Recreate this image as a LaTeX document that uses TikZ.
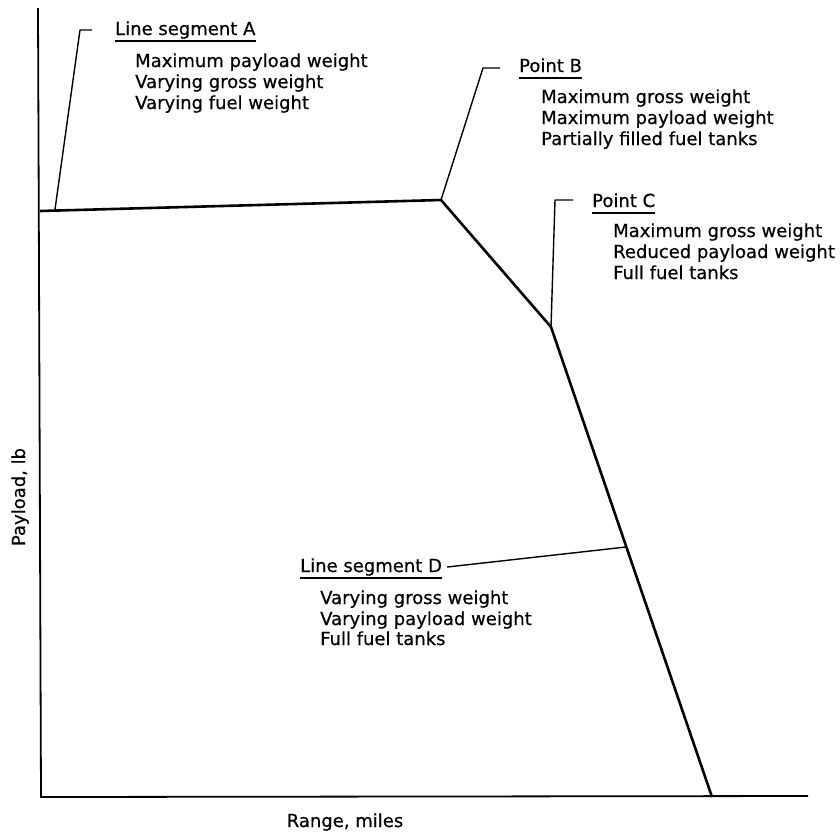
\documentclass[tikz,border=0pt]{standalone}
\usepackage{fontspec}
\setmainfont{DejaVu Sans}
\newfontfamily\lblfont{DejaVu Sans}[FakeBold=0.5]
\usetikzlibrary{calc}
\begin{document}
\begin{tikzpicture}[x=1pt,y=-1pt,
  lbl/.style={inner sep=0pt, anchor=base west, font=\lblfont\fontsize{18}{21}\selectfont},
  curve/.style={line width=2.6pt, line join=round},
  axis/.style={line width=1.8pt},
  leader/.style={line width=1.4pt, line join=round},
  uline/.style={line width=1.6pt}]
\useasboundingbox (0,0) rectangle (840,833);
% axes
\coordinate (ytop) at (38,8);
\coordinate (O) at (41,797);
\coordinate (xend) at (808,796);
\draw[axis] (ytop) -- (O) -- (xend);
% payload-range curve
\coordinate (P0) at (40,211);
\coordinate (B) at (441,200);
\coordinate (C) at (551,327);
\coordinate (E) at (712,797);
\draw[curve] (P0) -- (B) -- (C) -- (E);
% Line segment A
\node[lbl] (ta) at (115,35) {Line segment A};
\draw[uline] ([yshift=-6pt]ta.base west) -- ([yshift=-6pt]ta.base east);
\node[lbl] (a1) at (135,67) {Maximum payload weight};
\node[lbl] (a2) at (135,88) {Varying gross weight};
\node[lbl] (a3) at (135,109) {Varying fuel weight};
\coordinate (la) at ($(P0)!0.037!(B)$);
\coordinate (laBend) at (80,30);
\coordinate (laEnd) at (92,30);
\draw[leader] (la) -- (laBend) -- (laEnd);
% Point B
\node[lbl] (tb) at (519,72) {Point B};
\draw[uline] ([yshift=-6pt]tb.base west) -- ([yshift=-6pt]tb.base east);
\node[lbl] (b1) at (541,103) {Maximum gross weight};
\node[lbl] (b2) at (541,124) {Maximum payload weight};
\node[lbl] (b3) at (541,145) {Partially filled fuel tanks};
\coordinate (lbBend) at (483,68);
\coordinate (lbEnd) at (500,68);
\draw[leader] (B) -- (lbBend) -- (lbEnd);
% Point C
\node[lbl] (tc) at (592,207) {Point C};
\draw[uline] ([yshift=-6pt]tc.base west) -- ([yshift=-6pt]tc.base east);
\node[lbl] (c1) at (613,237) {Maximum gross weight};
\node[lbl] (c2) at (613,258) {Reduced payload weight};
\node[lbl] (c3) at (613,279) {Full fuel tanks};
\coordinate (lcBend) at (555,200);
\coordinate (lcEnd) at (573,200);
\draw[leader] (C) -- (lcBend) -- (lcEnd);
% Line segment D
\node[lbl] (td) at (300,572) {Line segment D};
\draw[uline] ([yshift=-6pt]td.base west) -- ([yshift=-6pt]td.base east);
\node[lbl] (d1) at (320,604) {Varying gross weight};
\node[lbl] (d2) at (320,625) {Varying payload weight};
\node[lbl] (d3) at (320,645) {Full fuel tanks};
\coordinate (ld) at ($(C)!0.468!(E)$);
\draw[leader] ([xshift=5pt]td.base east |- 0,567) -- (ld);
% axis labels
\node[inner sep=0pt, anchor=base, font=\lblfont\fontsize{18}{21}\selectfont] (xl) at (345,827) {Range, miles};
\node[inner sep=0pt, anchor=base, rotate=90, font=\lblfont\fontsize{18}{21}\selectfont] (yl) at (25,497) {Payload, lb};
\end{tikzpicture}
\end{document}
